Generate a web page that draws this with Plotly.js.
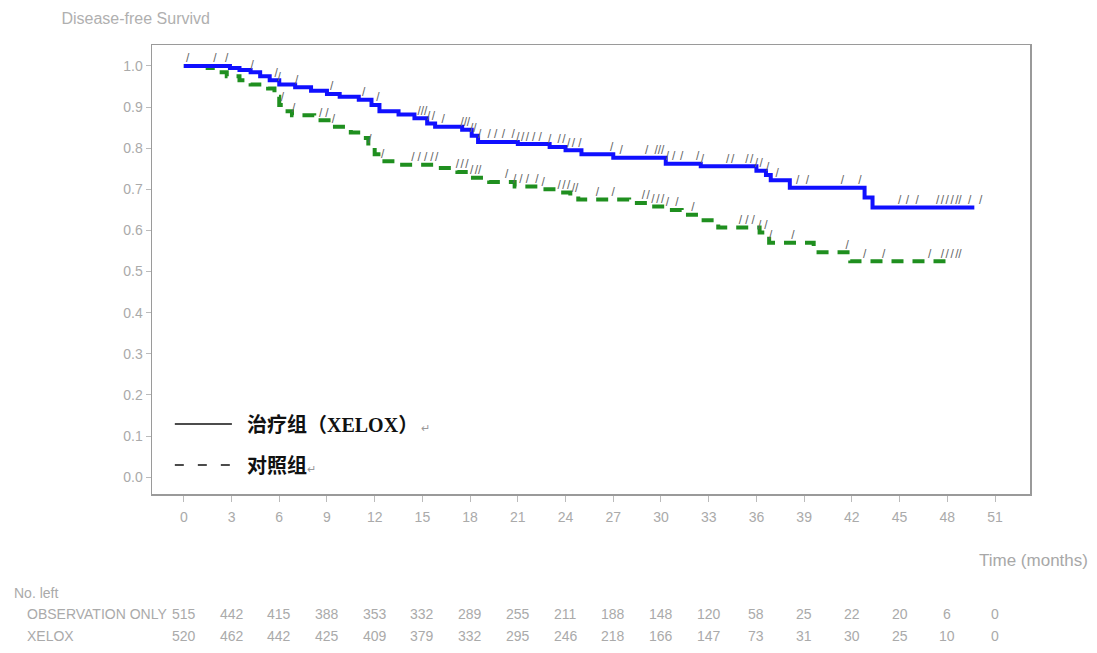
<!DOCTYPE html>
<html><head><meta charset="utf-8">
<script src="https://cdn.plot.ly/plotly-3.0.1.min.js"></script>
<style>html,body{margin:0;padding:0;background:#fff;}#chart{width:1097px;height:653px;}</style>
</head><body><div id="chart"></div>
<script>
// XELOX (treatment) KM curve
const xeloxTime = [0, 2.9, 3.5, 4.2, 4.8, 5.4, 6.0, 7.0, 8.0, 9.0, 9.8, 11.0, 11.8, 12.3, 13.5, 14.5, 15.3, 15.8, 17.5, 18.1, 18.5, 21.0, 23.0, 24.0, 25.0, 27.0, 30.3, 32.5, 36.0, 36.6, 36.9, 38.1, 42.8, 43.3, 49.7];
const xeloxSurv = [1.0, 0.995, 0.99, 0.985, 0.975, 0.965, 0.955, 0.948, 0.940, 0.932, 0.925, 0.918, 0.905, 0.89, 0.882, 0.873, 0.86, 0.852, 0.845, 0.83, 0.815, 0.81, 0.803, 0.795, 0.785, 0.777, 0.762, 0.756, 0.745, 0.735, 0.722, 0.704, 0.68, 0.656, 0.656];
// Observation only (control) KM curve
const obsTime = [0, 1.5, 2.0, 2.7, 3.5, 4.2, 5.3, 5.7, 6.0, 6.3, 6.8, 8.2, 9.3, 10.5, 11.2, 11.6, 12.0, 12.4, 13.5, 16.0, 17.2, 18.0, 19.2, 20.8, 22.5, 23.6, 24.3, 24.8, 28.0, 29.3, 30.3, 31.3, 32.5, 33.6, 36.2, 36.8, 39.6, 41.9, 48.2];
const obsSurv = [1.0, 0.995, 0.985, 0.975, 0.965, 0.955, 0.945, 0.925, 0.905, 0.89, 0.88, 0.868, 0.852, 0.838, 0.825, 0.805, 0.785, 0.768, 0.76, 0.752, 0.742, 0.728, 0.718, 0.707, 0.70, 0.692, 0.684, 0.675, 0.667, 0.658, 0.65, 0.638, 0.625, 0.607, 0.595, 0.57, 0.547, 0.525, 0.525];
// censoring times
const xeloxCensor = [0.25, 1.95, 2.7, 4.3, 5.8, 6.0, 7.1, 9.3, 11.3, 12.2, 14.8, 15.0, 15.2, 15.4, 15.7, 16.3, 17.5, 17.7, 17.9, 18.1, 18.3, 18.6, 19.2, 19.6, 20.1, 20.7, 21.0, 21.3, 21.6, 22.0, 22.4, 23.0, 23.6, 23.9, 24.2, 24.5, 24.9, 26.9, 27.5, 29.1, 29.7, 29.9, 30.1, 30.4, 30.8, 31.3, 32.3, 32.6, 34.2, 34.5, 35.4, 35.7, 36.0, 36.3, 36.7, 37.3, 38.6, 39.2, 41.4, 42.5, 45.0, 45.5, 46.1, 47.4, 47.7, 48.0, 48.3, 48.6, 48.8, 49.4, 50.1];
const obsCensor = [6.2, 6.9, 8.6, 9.0, 9.4, 11.7, 12.5, 14.4, 14.8, 15.2, 15.6, 15.9, 17.2, 17.5, 17.8, 18.1, 18.4, 18.6, 20.3, 20.8, 21.2, 21.6, 22.2, 22.6, 23.6, 23.9, 24.2, 24.5, 24.7, 26.0, 27.0, 28.9, 29.2, 29.5, 29.8, 30.1, 30.4, 31.0, 32.0, 35.0, 35.4, 35.8, 36.2, 36.6, 36.9, 38.3, 41.7, 42.8, 44.0, 46.9, 47.7, 48.0, 48.3, 48.6, 48.8];
// axis ticks
const xTicks = [0, 3, 6, 9, 12, 15, 18, 21, 24, 27, 30, 33, 36, 39, 42, 45, 48, 51];
const yTicks = [0.0, 0.1, 0.2, 0.3, 0.4, 0.5, 0.6, 0.7, 0.8, 0.9, 1.0];
// numbers at risk
const riskLabels = ['OBSERVATION ONLY', 'XELOX'];
const riskObs = [515, 442, 415, 388, 353, 332, 289, 255, 211, 188, 148, 120, 58, 25, 22, 20, 6, 0];
const riskXelox = [520, 462, 442, 425, 409, 379, 332, 295, 246, 218, 166, 147, 73, 31, 30, 25, 10, 0];

function stepAt(ts, ss, t) {
  let v = ss[0];
  for (let i = 0; i < ts.length; i++) { if (ts[i] <= t) v = ss[i]; }
  return v;
}
const markOff = 0.016;
const grey = '#9a9a9a';
const tickFont = {family: 'Liberation Sans, Arial, sans-serif', size: 14, color: '#aaaaaa'};
const markFont = {family: 'Liberation Sans, Arial, sans-serif', size: 12, color: '#666'};

const traces = [
  {x: obsTime, y: obsSurv, type: 'scatter', mode: 'lines', line: {shape: 'hv', color: '#1f8f1f', width: 4, dash: '12px,9px'}, hoverinfo: 'skip', showlegend: false},
  {x: xeloxTime, y: xeloxSurv, type: 'scatter', mode: 'lines', line: {shape: 'hv', color: '#1010ff', width: 4}, hoverinfo: 'skip', showlegend: false},
  {x: xeloxCensor, y: xeloxCensor.map(t => stepAt(xeloxTime, xeloxSurv, t) + markOff), type: 'scatter', mode: 'text',
   text: xeloxCensor.map(() => '/'), textfont: markFont, textposition: 'middle center', hoverinfo: 'skip', showlegend: false},
  {x: obsCensor, y: obsCensor.map(t => stepAt(obsTime, obsSurv, t) + markOff), type: 'scatter', mode: 'text',
   text: obsCensor.map(() => '/'), textfont: markFont, textposition: 'middle center', hoverinfo: 'skip', showlegend: false}
];

const annotations = [];
// legend text
const cjk = 'Noto Sans CJK SC, sans-serif';
annotations.push({xref: 'paper', yref: 'paper', x: 0.106, y: 0.156, xanchor: 'left', yanchor: 'middle', showarrow: false,
  text: '<b>治疗组（<span style="font-family:Liberation Serif, serif">XELOX</span>）</b><span style="font-size:11px;color:#999;font-weight:normal"> ↵</span>', font: {family: cjk, size: 20, color: '#111'}});
annotations.push({xref: 'paper', yref: 'paper', x: 0.106, y: 0.0646, xanchor: 'left', yanchor: 'middle', showarrow: false,
  text: '<b>对照组</b><span style="font-size:11px;color:#999;font-weight:normal">↵</span>', font: {family: cjk, size: 20, color: '#111'}});
// time label
annotations.push({xref: 'paper', yref: 'paper', x: 1.068, y: -0.147, xanchor: 'right', yanchor: 'middle', showarrow: false,
  text: 'Time (months)', font: {family: 'Liberation Sans, Arial, sans-serif', size: 17, color: '#a8a8a8'}});
// number at risk
annotations.push({xref: 'paper', yref: 'paper', x: -0.160, y: -0.220, xanchor: 'left', yanchor: 'middle', showarrow: false,
  text: 'No. left', font: {family: 'Liberation Sans, Arial, sans-serif', size: 14, color: '#aaaaaa'}});
const rowY = [-0.267, -0.316];
riskLabels.forEach((lab, r) => {
  annotations.push({xref: 'paper', yref: 'paper', x: -0.145, y: rowY[r], xanchor: 'left', yanchor: 'middle', showarrow: false,
    text: lab, font: {family: 'Liberation Sans Narrow, Liberation Sans, Arial, sans-serif', size: 14, color: '#aaaaaa'}});
});
[riskObs, riskXelox].forEach((arr, r) => {
  arr.forEach((v, i) => {
    annotations.push({xref: 'x', yref: 'paper', x: xTicks[i], y: rowY[r], xanchor: 'center', yanchor: 'middle', showarrow: false,
      text: String(v), font: {family: 'Liberation Sans, Arial, sans-serif', size: 14, color: '#aaaaaa'}});
  });
});

const shapes = [
  {type: 'line', xref: 'paper', yref: 'paper', x0: 0.026, x1: 0.091, y0: 0.156, y1: 0.156, line: {color: '#111', width: 1.5}},
  {type: 'line', xref: 'paper', yref: 'paper', x0: 0.026, x1: 0.091, y0: 0.0646, y1: 0.0646, line: {color: '#111', width: 1.5, dash: '9px,14px'}}
];

const layout = {
  width: 1097, height: 653,
  margin: {l: 152, r: 67, t: 45, b: 159},
  paper_bgcolor: '#fff', plot_bgcolor: '#fff',
  title: {text: 'Disease-free Survivd', x: 0.056, xanchor: 'left', xref: 'container', y: 0.972, yanchor: 'middle', yref: 'container',
    font: {family: 'Liberation Sans, Arial, sans-serif', size: 16, color: '#b0b0b0'}},
  xaxis: {range: [-2.0, 53.2], tickvals: xTicks, ticktext: xTicks.map(String), showgrid: false, zeroline: false,
    showline: true, mirror: true, linecolor: grey, linewidth: 1.5, ticks: 'outside', ticklen: 6, tickcolor: '#bbb',
    tickfont: tickFont, ticklabelstandoff: 4},
  yaxis: {range: [-0.041, 1.051], tickvals: yTicks, tickformat: '.1f', showgrid: false, zeroline: false,
    showline: true, mirror: true, linecolor: grey, linewidth: 1.5, ticks: 'outside', ticklen: 5, tickcolor: '#bbb',
    tickfont: tickFont},
  annotations: annotations,
  shapes: shapes
};
Plotly.newPlot('chart', traces, layout, {staticPlot: true});
</script></body></html>
